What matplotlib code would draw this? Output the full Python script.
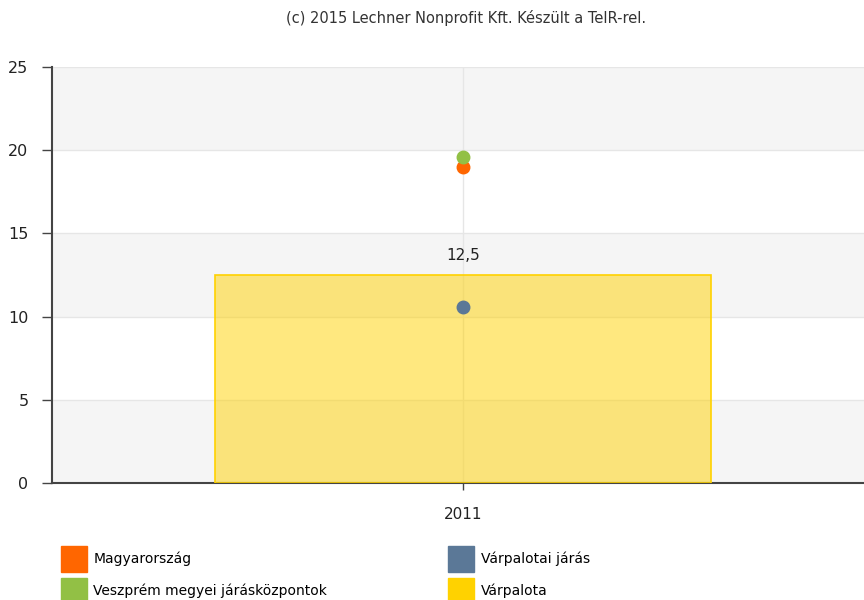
import matplotlib.pyplot as plt
from matplotlib.patches import Patch

years = ['2011']
varpalota = [12.5]
magyarorszag = [19.0]
veszprem = [19.6]
jaras = [10.6]

yticks = [0, 5, 10, 15, 20, 25]
c_orange = '#ff6600'
c_green = '#92c045'
c_blue = '#5b7897'
c_yellow = '#ffd200'


def make_plot(out_path=None):
    fig = plt.figure(figsize=(8.64, 6), dpi=100)
    ax = fig.add_axes([52/864, 1-483/600, 812/864, 416/600])

    # alternating horizontal bands
    for i in range(0, 25, 5):
        if (i // 5) % 2 == 0:
            ax.axhspan(i, i+5, color='#f5f5f5', zorder=0, lw=0)
    for y in yticks[1:]:
        ax.axhline(y, color='#e6e6e6', lw=1, zorder=1)
    ax.axvline(0, color='#e6e6e6', lw=1, zorder=1)

    x = list(range(len(years)))
    ax.bar(x, varpalota, width=0.61, color=c_yellow, alpha=0.5, zorder=2)
    ax.bar(x, varpalota, width=0.61, fill=False, edgecolor=c_yellow, lw=1.2, zorder=3)
    for xi, v in zip(x, varpalota):
        ax.annotate(('%.1f' % v).replace('.', ','), (xi, v), xytext=(0, 9),
                    textcoords='offset points', ha='center', va='bottom',
                    fontsize=11, color='#222222')

    ax.plot(x, magyarorszag, 'o', color=c_orange, ms=9, zorder=4)
    ax.plot(x, veszprem, 'o', color=c_green, ms=9, zorder=5)
    ax.plot(x, jaras, 'o', color=c_blue, ms=9, zorder=4)

    ax.set_xlim(-0.506, 0.494)
    ax.set_ylim(0, 25)
    ax.set_yticks(yticks)
    ax.set_xticks(x)
    ax.set_xticklabels(years)
    ax.tick_params(axis='y', length=7, width=1, color='#444444', labelsize=11.5,
                   labelcolor='#222222', pad=10)
    ax.tick_params(axis='x', length=5, width=1, color='#444444', labelsize=11,
                   labelcolor='#222222', pad=12)
    ax.spines['right'].set_visible(False)
    ax.spines['top'].set_visible(False)
    ax.spines['left'].set_color('#444444')
    ax.spines['bottom'].set_color('#444444')
    ax.spines['left'].set_linewidth(1.5)
    ax.spines['bottom'].set_linewidth(1.5)

    fig.text(0.539, 1-18/600, '(c) 2015 Lechner Nonprofit Kft. Készült a TeIR-rel.',
             ha='center', va='center', fontsize=10.5, color='#333333')

    handles = [Patch(color=c_orange, label='Magyarország'),
               Patch(color=c_green, label='Veszprém megyei járásközpontok'),
               Patch(color=c_blue, label='Várpalotai járás'),
               Patch(color=c_yellow, label='Várpalota')]
    fig.legend(handles=handles, ncol=2, loc='upper left',
               bbox_to_anchor=(55/864, 1-540.5/600), frameon=False, fontsize=10,
               handlelength=1.87, handleheight=2.5, handletextpad=0.5,
               columnspacing=8.7, labelspacing=0.43, borderaxespad=0)

    if out_path:
        fig.savefig(out_path, dpi=100)
    return fig


if __name__ == '__main__':
    make_plot('out.png')
